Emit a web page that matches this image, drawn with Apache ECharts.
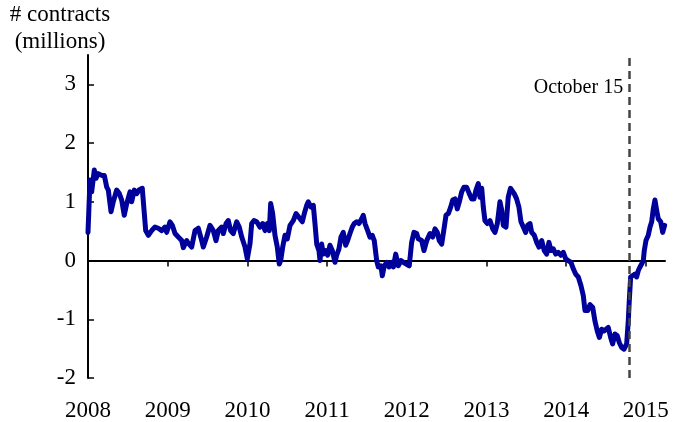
<!DOCTYPE html>
<html>
<head>
<meta charset="utf-8">
<script src="https://cdn.jsdelivr.net/npm/echarts@6/dist/echarts.min.js"></script>
<style>
  html, body { margin: 0; padding: 0; background: #fff; }
  #chart { width: 675px; height: 422px; }
</style>
</head>
<body>
<div id="chart"></div>
<script>
// weekly-ish readings, decimal year -> open contracts (millions)
var yearPos = [
  2008.000, 2008.025, 2008.046, 2008.079, 2008.100, 2008.129, 2008.172, 2008.205, 2008.235, 2008.255,
  2008.289, 2008.317, 2008.360, 2008.393, 2008.423, 2008.455, 2008.486, 2008.527, 2008.548, 2008.581,
  2008.611, 2008.640, 2008.681, 2008.706, 2008.724, 2008.757, 2008.799, 2008.841, 2008.882, 2008.925,
  2008.966, 2008.987, 2009.029, 2009.058, 2009.092, 2009.133, 2009.176, 2009.196, 2009.238, 2009.255,
  2009.301, 2009.343, 2009.384, 2009.427, 2009.447, 2009.489, 2009.531, 2009.572, 2009.606, 2009.635,
  2009.678, 2009.698, 2009.732, 2009.760, 2009.790, 2009.823, 2009.866, 2009.898, 2009.929, 2009.970,
  2009.999, 2010.033, 2010.054, 2010.083, 2010.117, 2010.158, 2010.192, 2010.221, 2010.250, 2010.275,
  2010.292, 2010.317, 2010.346, 2010.375, 2010.400, 2010.418, 2010.443, 2010.472, 2010.501, 2010.535,
  2010.576, 2010.610, 2010.635, 2010.660, 2010.689, 2010.714, 2010.744, 2010.764, 2010.798, 2010.827,
  2010.848, 2010.870, 2010.898, 2010.911, 2010.932, 2010.952, 2010.982, 2011.007, 2011.036, 2011.065,
  2011.099, 2011.120, 2011.149, 2011.174, 2011.203, 2011.233, 2011.258, 2011.287, 2011.316, 2011.341,
  2011.371, 2011.400, 2011.434, 2011.454, 2011.476, 2011.509, 2011.538, 2011.567, 2011.592, 2011.622,
  2011.642, 2011.676, 2011.693, 2011.718, 2011.748, 2011.777, 2011.811, 2011.831, 2011.861, 2011.893,
  2011.927, 2011.956, 2011.977, 2012.031, 2012.061, 2012.090, 2012.124, 2012.144, 2012.187, 2012.216,
  2012.250, 2012.291, 2012.325, 2012.354, 2012.383, 2012.408, 2012.438, 2012.467, 2012.492, 2012.521,
  2012.551, 2012.576, 2012.605, 2012.634, 2012.659, 2012.689, 2012.718, 2012.751, 2012.784, 2012.814,
  2012.843, 2012.868, 2012.897, 2012.918, 2012.940, 2012.960, 2012.981, 2013.010, 2013.044, 2013.078,
  2013.107, 2013.136, 2013.169, 2013.191, 2013.211, 2013.245, 2013.273, 2013.301, 2013.348, 2013.378,
  2013.407, 2013.433, 2013.462, 2013.492, 2013.517, 2013.546, 2013.567, 2013.600, 2013.630, 2013.659,
  2013.693, 2013.725, 2013.755, 2013.784, 2013.809, 2013.838, 2013.868, 2013.901, 2013.935, 2013.964,
  2013.994, 2014.026, 2014.060, 2014.089, 2014.119, 2014.152, 2014.186, 2014.215, 2014.236, 2014.270,
  2014.299, 2014.333, 2014.361, 2014.390, 2014.416, 2014.445, 2014.474, 2014.499, 2014.528, 2014.558,
  2014.583, 2014.612, 2014.641, 2014.667, 2014.696, 2014.726, 2014.759, 2014.779, 2014.792, 2014.809,
  2014.834, 2014.863, 2014.884, 2014.905, 2014.926, 2014.947, 2014.968, 2014.980, 2015.001, 2015.030,
  2015.052, 2015.073, 2015.093, 2015.114, 2015.135, 2015.156, 2015.186, 2015.211, 2015.235
];
var contracts = [
  0.48, 1.37, 1.17, 1.54, 1.40, 1.48, 1.45, 1.45, 1.25, 1.20,
  0.83, 1.00, 1.20, 1.14, 1.03, 0.77, 0.97, 1.17, 1.00, 1.20,
  1.14, 1.20, 1.23, 1.20, 0.51, 0.43, 0.51, 0.57, 0.55, 0.51,
  0.57, 0.48, 0.66, 0.60, 0.46, 0.40, 0.34, 0.22, 0.34, 0.30,
  0.23, 0.51, 0.55, 0.34, 0.23, 0.40, 0.60, 0.51, 0.34, 0.51,
  0.57, 0.46, 0.63, 0.68, 0.51, 0.46, 0.66, 0.57, 0.40, 0.23,
  0.03, 0.29, 0.63, 0.68, 0.66, 0.57, 0.63, 0.51, 0.63, 0.51,
  0.97, 0.80, 0.43, 0.23, -0.06, 0.00, 0.23, 0.43, 0.37, 0.60,
  0.68, 0.80, 0.78, 0.71, 0.66, 0.80, 0.94, 1.00, 0.91, 0.94,
  0.63, 0.28, 0.17, 0.00, 0.28, 0.11, 0.17, 0.09, 0.26, 0.17,
  -0.03, 0.09, 0.20, 0.40, 0.48, 0.26, 0.34, 0.46, 0.57, 0.63,
  0.66, 0.63, 0.71, 0.77, 0.63, 0.51, 0.40, 0.43, 0.34, 0.00,
  -0.11, -0.09, -0.26, -0.09, -0.03, -0.11, -0.03, -0.11, 0.11, -0.09,
  0.00, -0.03, 0.00, -0.09, 0.31, 0.48, 0.46, 0.37, 0.34, 0.17,
  0.34, 0.46, 0.40, 0.54, 0.48, 0.34, 0.28, 0.54, 0.77, 0.80,
  0.91, 1.03, 1.05, 0.88, 1.00, 1.17, 1.25, 1.25, 1.14, 1.05,
  1.05, 1.20, 1.31, 1.08, 1.23, 0.91, 0.68, 0.63, 0.68, 0.54,
  0.48, 0.63, 1.00, 0.86, 0.60, 0.57, 1.08, 1.23, 1.14, 1.05,
  0.91, 0.66, 0.57, 0.48, 0.60, 0.63, 0.48, 0.43, 0.31, 0.23,
  0.34, 0.17, 0.11, 0.31, 0.17, 0.20, 0.11, 0.14, 0.09, 0.14,
  0.03, 0.00, -0.03, -0.14, -0.23, -0.28, -0.43, -0.60, -0.85, -0.85,
  -0.75, -0.80, -1.03, -1.20, -1.31, -1.17, -1.20, -1.23, -1.14, -1.31,
  -1.42, -1.25, -1.28, -1.40, -1.48, -1.51, -1.42, -1.03, -0.68, -0.28,
  -0.26, -0.23, -0.28, -0.17, -0.11, -0.06, 0.00, 0.17, 0.34, 0.43,
  0.57, 0.66, 0.88, 1.03, 0.86, 0.71, 0.66, 0.48, 0.60
];
var yearTicks = [2008, 2009, 2010, 2011, 2012, 2013, 2014, 2015];
var valueTicks = [-2, -1, 0, 1, 2, 3];
var october15 = 2014.79;
var eventLabel = 'October 15';

var serif = '"Liberation Serif", "DejaVu Serif", serif';
var points = yearPos.map(function (x, i) { return [x, contracts[i]]; });

var chart = echarts.init(document.getElementById('chart'));
chart.setOption({
  animation: false,
  grid: { left: 88, right: 10, top: 55, bottom: 44, outerBoundsMode: 'none', containLabel: false },
  graphic: [{
    type: 'text',
    x: 60,
    y: 1,
    style: {
      text: '# contracts\n(millions)',
      font: '23px ' + serif,
      fill: '#000',
      align: 'center',
      lineHeight: 27
    }
  }],
  xAxis: {
    type: 'value',
    min: 2008,
    max: 2015.24,
    interval: 1,
    splitLine: { show: false },
    axisLine: { onZero: true, lineStyle: { color: '#000', width: 2 } },
    axisTick: { customValues: yearTicks, length: 6, lineStyle: { color: '#000', width: 1.5 } },
    axisLabel: {
      customValues: yearTicks,
      margin: 21,
      color: '#000',
      fontSize: 23,
      fontFamily: serif,
      formatter: function (v) { return String(v); }
    }
  },
  yAxis: {
    type: 'value',
    min: -2,
    max: 3.5,
    interval: 1,
    splitLine: { show: false },
    axisLine: { show: true, lineStyle: { color: '#000', width: 2 } },
    axisTick: { customValues: valueTicks, inside: true, length: 6, lineStyle: { color: '#000', width: 1.5 } },
    axisLabel: {
      customValues: valueTicks,
      margin: 12,
      color: '#000',
      fontSize: 23,
      fontFamily: serif
    }
  },
  series: [{
    type: 'line',
    data: points,
    showSymbol: false,
    symbol: 'none',
    lineStyle: { color: '#00009a', width: 5, join: 'round', cap: 'round' },
    markLine: {
      silent: true,
      symbol: 'none',
      label: { show: false },
      lineStyle: { color: '#444', width: 2.5, type: [8, 5] },
      data: [{ xAxis: october15 }]
    },
    markPoint: {
      silent: true,
      symbol: 'circle',
      symbolSize: 0,
      label: {
        show: true,
        position: 'left',
        distance: 6,
        formatter: eventLabel,
        color: '#000',
        fontSize: 20,
        fontFamily: serif
      },
      data: [{ coord: [october15, 2.95] }]
    }
  }]
});
</script>
</body>
</html>
